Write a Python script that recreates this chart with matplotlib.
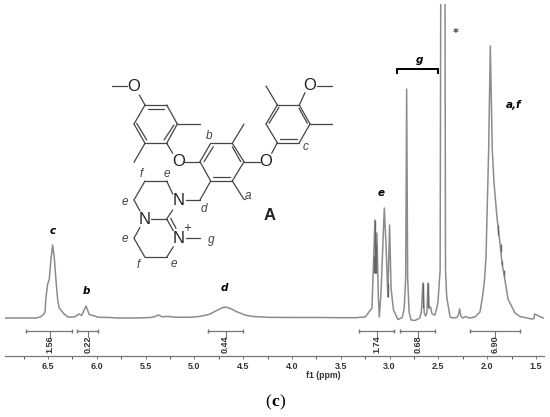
import matplotlib
matplotlib.use('Agg')
import matplotlib.pyplot as plt
import numpy as np

# spectrum: ppm, height above baseline
ppm = [6.94, 6.72, 6.62, 6.58, 6.55, 6.53, 6.52, 6.503, 6.487, 6.47, 6.452, 6.435, 6.418, 6.40, 6.384, 6.34, 6.295,
       6.23, 6.18, 6.155, 6.11, 6.077, 6.04, 5.98, 5.87, 5.78, 5.6, 5.45, 5.40, 5.37, 5.33, 5.29, 5.26, 5.2,
       5.05, 4.95, 4.85, 4.78, 4.72, 4.68, 4.63, 4.56, 4.48, 4.4, 4.25, 4.0, 3.7, 3.5, 3.35,
       3.25, 3.18, 3.17, 3.15, 3.14, 3.13, 3.115, 3.105, 3.088, 3.07, 3.054, 3.035, 3.018, 3.0, 2.985, 2.96,
       2.914, 2.87, 2.85, 2.835, 2.825, 2.815, 2.80, 2.78, 2.74, 2.69, 2.675, 2.658, 2.645, 2.63, 2.617,
       2.607, 2.595, 2.58, 2.565, 2.535, 2.505, 2.482, 2.476, 2.453, 2.432, 2.427, 2.415, 2.38,
       2.35, 2.31, 2.295, 2.282, 2.27, 2.25, 2.22, 2.19, 2.15, 2.125,
       2.074, 2.053, 2.03, 2.012, 1.985, 1.968, 1.948, 1.93, 1.90, 1.869, 1.848, 1.818, 1.787, 1.715, 1.664,
       1.544, 1.52, 1.515, 1.49, 1.46, 1.44, 1.42]
height = [0, 0, 0, 1, 3, 6, 21, 34, 38, 58, 73, 60, 38, 18, 10, 4.5, 1,
          1, 4, 2.5, 12, 3.5, 2.5, 0.7, 0.5, 0, 0, 0.5, 1.5, 3, 1.2, 1.5, 1.5, 0.8,
          0.7, 1.5, 3.5, 7, 10, 11, 9.5, 6, 3, 1.5, 0.7, 0.5, 0.5, 0.3, 0.3,
          1, 10, 40, 98, 45, 85, 20, 1, 25, 70, 110, 70, 21, 93, 30, 8,
          -1.5, 0.5, 10, 40, 229, 40, 6, -2, -2.5, 0, 6, 35, 5, 2, 6,
          35, 10, 11, 4, 3, 15, 48, 314, 1000, 314, 48, 21, 1,
          0, 0.5, 3, 9, 2, 0, 1.5, 0, 0.5, 1,
          6, 18, 35, 61, 168, 272, 168, 135, 101, 75, 55, 38, 19, 5, 1.5,
          -1, -0.5, 4, 3, 1.5, 0.5, 0]

# darker overlapping multiplet strokes: ppm, low, high
dark_ppm = [3.16, 3.15, 3.135, 3.018, 2.658, 2.607, 1.886, 1.862, 1.848, 1.83]
dark_low = [45, 45, 45, 21, 10, 10, 83, 66, 53, 42]
dark_high = [62, 98, 75, 35, 35, 35, 93, 74, 57, 48]

# integrals: left, right, centre, label
int_left = [6.72, 6.20, 4.86, 3.31, 2.89, 2.18]
int_right = [6.25, 5.99, 4.50, 2.95, 2.53, 1.66]
int_mid = [6.48, 6.09, 4.68, 3.13, 2.71, 1.92]
int_labels = ['1.56', '0.22', '0.44', '1.74', '0.68', '6.90']

major_ticks = [6.5, 6.0, 5.5, 5.0, 4.5, 4.0, 3.5, 3.0, 2.5, 2.0, 1.5]
minor_ticks = [6.75, 6.25, 5.75, 5.25, 4.75, 4.25, 3.75, 3.25, 2.75, 2.25, 1.75]

# molecule drawn in picture pixels, each bond is x1, y1, x2, y2
bonds = [
    (112, 86, 127, 86), (139.3, 95, 145, 105), (145, 105, 166.7, 105), (166.7, 105, 177.3, 124),
    (177.3, 124, 166.7, 143.3), (166.7, 143.3, 145, 143.3), (145, 143.3, 134, 124), (134, 124, 145, 105),
    (148.3, 109, 164, 109), (136.7, 123.3, 146.7, 140), (174, 125, 164, 140),
    (177.3, 124, 200, 124), (145, 143.3, 134, 162.3), (166.7, 143.3, 172.7, 153.3), (184, 161.7, 200, 161.7),
    (200, 161.7, 210.7, 143.3), (210.7, 143.3, 232.3, 143.3), (232.3, 143.3, 244, 161.7),
    (244, 161.7, 232.3, 181), (232.3, 181, 210.7, 181), (210.7, 181, 200, 161.7),
    (204, 161.7, 213.3, 146.7), (232.3, 146.7, 240.7, 161.7), (213.3, 176.7, 230, 176.7),
    (232.3, 143.3, 244, 124), (244, 161.7, 260, 161.7), (232.3, 181, 243.7, 199), (243.7, 199, 245, 199),
    (271.7, 153.3, 277.3, 142.7), (277.3, 142.7, 299.3, 142.7), (299.3, 142.7, 310, 124), (310, 124, 299.3, 105),
    (299.3, 105, 277.3, 105), (277.3, 105, 266, 124), (266, 124, 277.3, 142.7),
    (269, 123.3, 279, 107.3), (280, 139, 296.7, 139), (299, 108.3, 307.3, 123.3),
    (277.3, 105, 266, 86), (310, 124, 331.7, 124), (299.3, 105, 305, 92.7), (316.7, 85.7, 331.7, 85.7),
    (210.7, 181, 200, 200), (200, 200, 185.7, 200), (172.7, 194, 166.7, 181), (166.7, 181, 145, 181),
    (145, 181, 134, 200), (134, 200, 140, 211), (150.7, 219, 166.7, 219), (166.7, 219, 172.7, 210),
    (166.7, 219, 173.3, 230.7), (170.7, 218.3, 176, 228.3), (186, 238.3, 200, 238.3),
    (173.3, 246.7, 166.7, 257.3), (166.7, 257.3, 145, 257.3), (145, 257.3, 134, 238.3), (134, 238.3, 140, 227.3),
]
atoms = [('O', 134, 86), ('O', 178.3, 161.7), ('O', 265.7, 161.7), ('O', 310, 85.7),
         ('N', 178.3, 200), ('N', 145, 219), ('N', 178.3, 238.3)]
site_labels = [('b', 209, 136), ('f', 141, 174), ('e', 167.3, 174.3), ('e', 125.3, 202.3), ('d', 204.3, 209),
               ('a', 248.3, 196), ('e', 125.3, 239.3), ('g', 211, 240), ('f', 138.3, 265.3), ('e', 174, 264.3),
               ('c', 306, 146.7)]
peak_labels = [('c', 52.7, 230.7), ('b', 86.3, 291), ('d', 224.3, 287.7), ('e', 380.7, 192.7),
               ('g', 419, 60), ('a,f', 514, 105)]
bracket_x = [397.3, 397.3, 438, 438]
bracket_y = [73, 69, 69, 73]

W, H = 550, 417
BASE_Y = 318     # baseline row in the picture
AX_LEFT, AX_RIGHT, AX_TOP, AX_BOTTOM = 5, 544, 4, 356
AXIS_FONT = 'Liberation Sans'

fig = plt.figure(figsize=(W / 100, H / 100), dpi=100)

ax = fig.add_axes([AX_LEFT / W, 1 - AX_BOTTOM / H, (AX_RIGHT - AX_LEFT) / W, (AX_BOTTOM - AX_TOP) / H])
ax.set_xlim(6.94, 1.418)
ax.set_ylim(BASE_Y - AX_BOTTOM, BASE_Y - AX_TOP)
ax.plot(ppm, height, color='#8c8c8c', linewidth=1.1, solid_joinstyle='round')
ax.vlines(dark_ppm, dark_low, dark_high, color='#666666', linewidth=1.0)

for spine in ['top', 'left', 'right']:
    ax.spines[spine].set_visible(False)
ax.spines['bottom'].set_color('#777777')
ax.spines['bottom'].set_linewidth(0.9)
ax.patch.set_alpha(0)
ax.set_yticks([])
ax.set_xticks(major_ticks)
ax.set_xticklabels(['%.1f' % t for t in major_ticks], fontsize=6.5, fontweight='bold', color='#333333',
                   family=AXIS_FONT)
ax.set_xticks(minor_ticks, minor=True)
ax.tick_params(axis='x', which='major', length=2, width=0.7, color='#777777', pad=2)
ax.tick_params(axis='x', which='minor', length=2, width=0.7, color='#555555')
ax.set_xlabel('f1 (ppm)', fontsize=6.3, fontweight='bold', color='#333333', labelpad=0.5, x=0.59,
              family=AXIS_FONT)

# integral brackets under the peaks
for left, right, mid, lab in zip(int_left, int_right, int_mid, int_labels):
    ax.plot([left, right], [-13, -13], color='#777777', linewidth=0.9, marker='|', markersize=2.5, clip_on=False)
    ax.plot([mid, mid], [-13, -19], color='#777777', linewidth=0.8)
    ax.text(mid, -26, lab, rotation=90, ha='center', va='center', fontsize=6.5, fontweight='bold', color='#333333',
            family=AXIS_FONT)

# overlay in picture pixels for the molecule and labels
ov = fig.add_axes([0, 0, 1, 1])
ov.set_xlim(0, W)
ov.set_ylim(H, 0)
ov.axis('off')
ov.patch.set_alpha(0)

for x1, y1, x2, y2 in bonds:
    ov.plot([x1, x2], [y1, y2], color='#444444', linewidth=0.9, solid_capstyle='round')
for name, x, y in atoms:
    ov.text(x, y, name, ha='center', va='center', fontsize=12, color='#222222', family='Liberation Sans')
for name, x, y in site_labels:
    ov.text(x, y, name, ha='center', va='center', fontsize=8.5, style='italic', color='#444444',
            family='Liberation Sans')
for name, x, y in peak_labels:
    ov.text(x, y, name, ha='center', va='center', fontsize=7.5, style='italic', fontweight='bold', color='black')
ov.text(186.7, 228, '+', ha='center', va='center', fontsize=7, color='#222222')
ov.text(270, 215.7, 'A', ha='center', va='center', fontsize=12, fontweight='bold', color='#222222',
        family='Liberation Sans')
ov.text(455.7, 33, '*', ha='center', va='center', fontsize=8, fontweight='bold', color='#333333')
ov.plot(bracket_x, bracket_y, color='black', linewidth=1.4, solid_joinstyle='miter')

# caption, only the letter is bold
ov.text(271, 402, '(', ha='right', va='center', fontsize=12.5, color='black', family='Liberation Serif')
ov.text(275, 402, 'c', ha='center', va='center', fontsize=12.5, fontweight='bold', color='black',
        family='Liberation Serif')
ov.text(279, 402, ')', ha='left', va='center', fontsize=12.5, color='black', family='Liberation Serif')

fig.savefig('out.png', dpi=100)
